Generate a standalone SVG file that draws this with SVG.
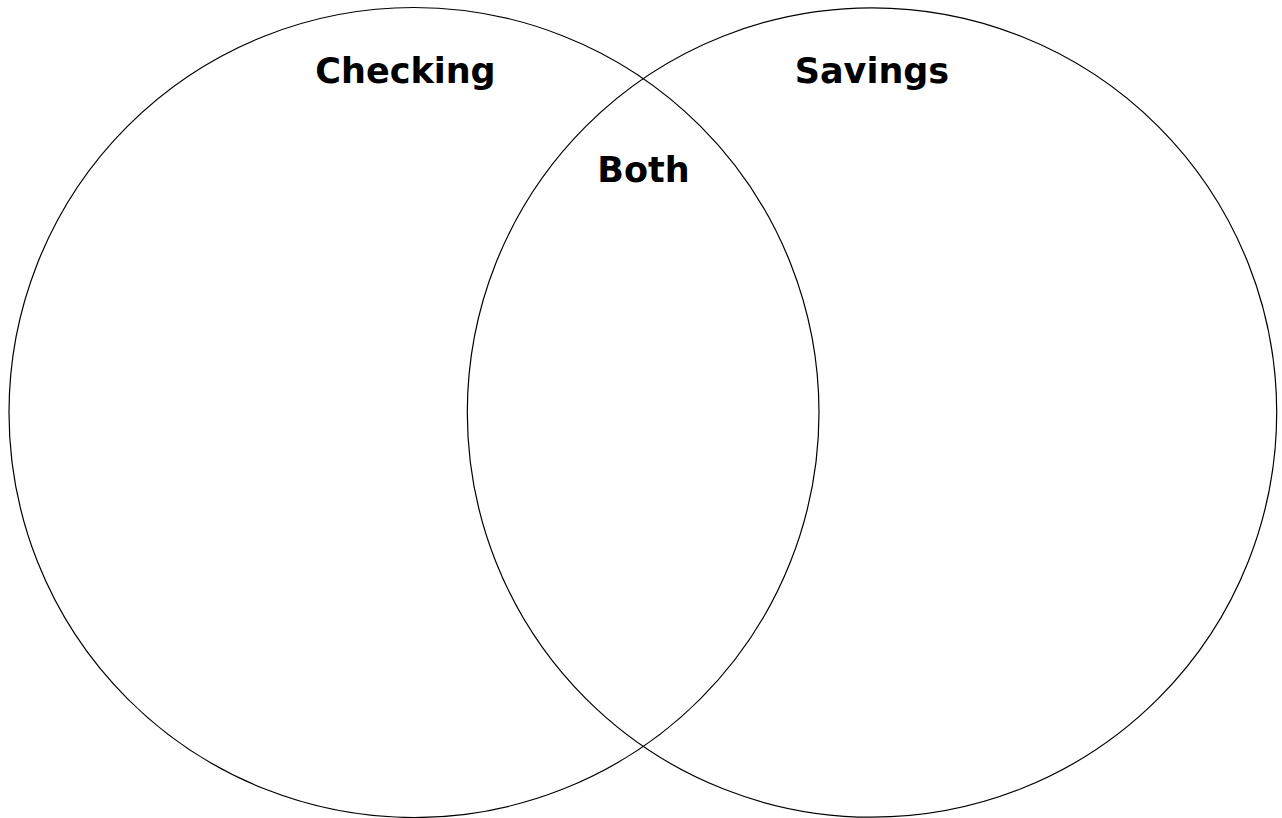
<svg xmlns="http://www.w3.org/2000/svg" width="1282" height="818" viewBox="0 0 1282 818">
<style>
.c{fill:none;stroke:#000;stroke-width:1.2}
.t{font-family:"DejaVu Sans","Liberation Sans",sans-serif;font-weight:700;font-size:35px;fill:#000;text-anchor:middle}
</style>
<rect width="1282" height="818" fill="#fff"/>
<g id="checking">
<circle class="c" cx="414" cy="412.5" r="405"/>
<text class="t" x="405.5" y="83">Checking</text>
</g>
<g id="savings">
<circle class="c" cx="872" cy="412.5" r="404.7"/>
<text class="t" x="872" y="83">Savings</text>
</g>
<g id="both">
<text class="t" x="643.5" y="182">Both</text>
</g>
<g id="connectors"></g>
</svg>
